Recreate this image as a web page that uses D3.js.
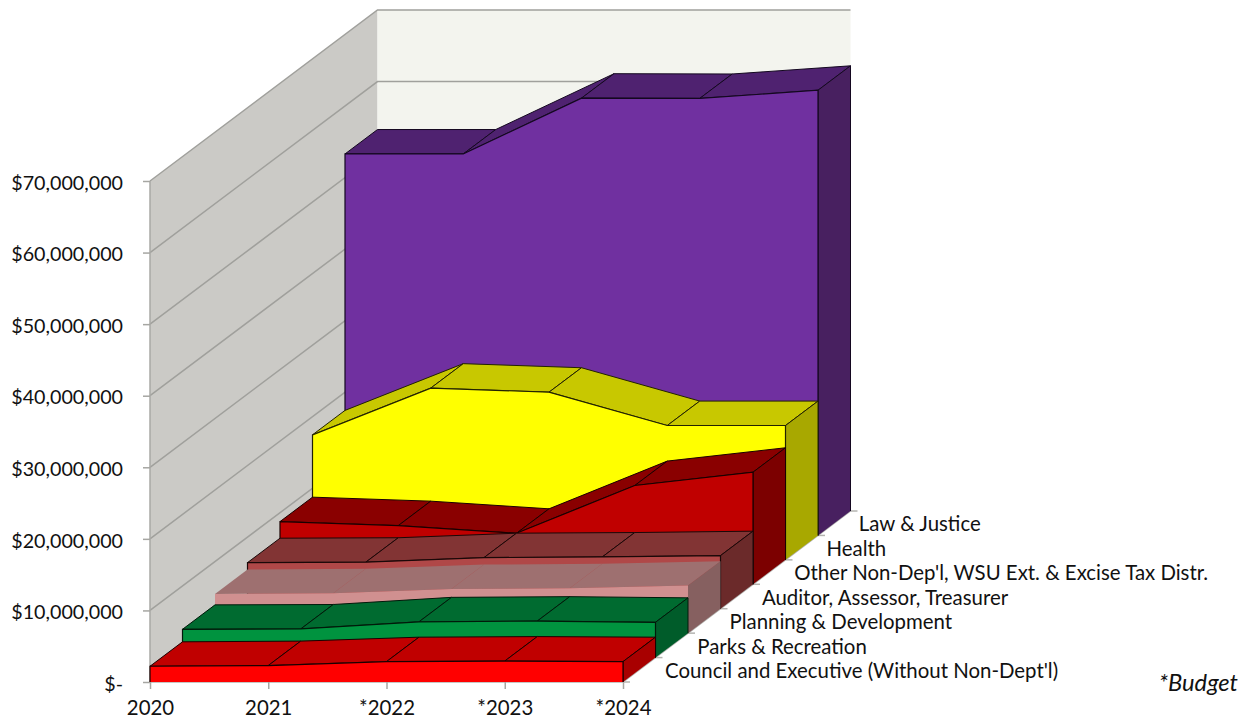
<!DOCTYPE html>
<html>
<head>
<meta charset="utf-8">
<script src="https://cdn.jsdelivr.net/npm/d3@7"></script>
<style>
    html, body { margin: 0; padding: 0; background: #fff; }
    svg { display: block; }
    text { font-family: Lato, "Open Sans", sans-serif; fill: #111; }
    .domain { display: none; }
    .tick line { stroke: #a6a6a2; stroke-width: 1.5; }
</style>
</head>
<body>
<div id="chart"></div>
<script>
// chart values, front series first
const years = ["2020", "2021", "*2022", "*2023", "*2024"];
const seriesNames = [
    "Council and Executive (Without Non-Dept'l)",
    "Parks & Recreation",
    "Planning & Development",
    "Auditor, Assessor, Treasurer",
    "Other Non-Dep'l, WSU Ext. & Excise Tax Distr.",
    "Health",
    "Law & Justice"
];
const council = [2200000, 2300000, 2850000, 2930000, 2850000];
const parks = [3950000, 4000000, 5000000, 5100000, 4930000];
const planning = [5470000, 5570000, 6170000, 6270000, 6640000];
const auditor = [6440000, 6500000, 7140000, 7230000, 7420000];
const otherNonDep = [8760000, 8200000, 7130000, 13800000, 15660000];
const health = [17470000, 24000000, 23430000, 18770000, 18770000];
const lawJustice = [53300000, 53300000, 61100000, 61060000, 62200000];
const seriesValues = [council, parks, planning, auditor, otherNonDep, health, lawJustice];
const yTicks = [0, 10000000, 20000000, 30000000, 40000000, 50000000, 60000000, 70000000];

const frontColors = ["#ff0000", "#00933f", "#d09090", "#b04848", "#c00000", "#ffff00", "#7030a0"];
const topColors = ["#c00000", "#006b30", "#9e7070", "#823434", "#8a0000", "#c8c800", "#4f2270"];
const sideColors = ["#a80000", "#005c2a", "#866060", "#6b2a2a", "#7c0000", "#a8a800", "#482060"];
const lineColors = ["#1a0000", "#001a0a", "none", "#1a0808", "#1a0000", "#222200", "#140820"];

const width = 1248, height = 722;

const x = d3.scalePoint().domain(years).range([150, 623]);
const y = d3.scaleLinear().domain([0, 70000000]).range([682, 181]);
// depth of the 3d box, in series
const depthX = d3.scaleLinear().domain([0, 7]).range([0, 227.5]);
const depthY = d3.scaleLinear().domain([0, 7]).range([0, -171]);

const svg = d3.select("#chart").append("svg")
    .attr("width", width)
    .attr("height", height);

const line = d3.line();

// point in chart space: year index, value, depth
function pt(i, v, d) {
    return [x(years[i]) + depthX(d), y(v) + depthY(d)];
}

// walls
const xEnd = years.length - 1;
svg.append("path")
    .attr("d", line([pt(0, 0, 0), pt(0, 0, 7), pt(0, 70000000, 7), pt(0, 70000000, 0)]) + "Z")
    .attr("fill", "#cbcac6");
svg.append("path")
    .attr("d", line([pt(0, 0, 7), pt(xEnd, 0, 7), pt(xEnd, 70000000, 7), pt(0, 70000000, 7)]) + "Z")
    .attr("fill", "#f3f4ee");

// gridlines
svg.append("g").selectAll("path")
    .data(yTicks)
    .join("path")
    .attr("d", d => line([pt(0, d, 0), pt(0, d, 7), pt(xEnd, d, 7)]))
    .attr("fill", "none")
    .attr("stroke", "#a0a09c")
    .attr("stroke-width", 1.5);

svg.append("path")
    .attr("d", line([pt(0, 0, 0), pt(0, 70000000, 0)]))
    .attr("stroke", "#a8a8a4")
    .attr("stroke-width", 1.5);

// floor
svg.append("path")
    .attr("d", line([pt(0, 0, 0), pt(xEnd, 0, 0), pt(xEnd, 0, 7), pt(0, 0, 7)]) + "Z")
    .attr("fill", "#ffffff");
svg.append("path")
    .attr("d", line([pt(0, 0, 0), pt(xEnd, 0, 0), pt(xEnd, 0, 7)]))
    .attr("fill", "none")
    .attr("stroke", "#b4b4b0")
    .attr("stroke-width", 1.5);

// axes
svg.append("g")
    .attr("transform", `translate(${x.range()[0]}, 0)`)
    .call(d3.axisLeft(y)
        .tickValues(yTicks)
        .tickSize(7)
        .tickPadding(20)
        .tickFormat(d => d === 0 ? "$-" : d3.format("$,")(d)))
    .selectAll("text")
    .attr("dy", "0.42em")
    .style("font-size", "19.7px");

svg.append("g")
    .attr("transform", `translate(0, ${y(0)})`)
    .call(d3.axisBottom(x).tickSize(7).tickPadding(12))
    .selectAll("text")
    .style("font-size", "20.4px");

// depth ticks and series names, down the right edge of the floor
const depthAxis = svg.append("g");
d3.range(0, 8).forEach(d => {
    let p = pt(xEnd, 0, d);
    depthAxis.append("line")
        .attr("x1", p[0]).attr("y1", p[1])
        .attr("x2", p[0] + 7).attr("y2", p[1])
        .attr("stroke", "#b4b4b0")
        .attr("stroke-width", 1.5);
});
depthAxis.selectAll("text")
    .data(seriesNames)
    .join("text")
    .attr("x", (d, i) => pt(xEnd, 0, i)[0] + 42 - i * 0.2)
    .attr("y", (d, i) => pt(xEnd, 0, i)[1] - 4)
    .style("font-size", "20.4px")
    .text(d => d);

// series, back to front
d3.range(seriesValues.length - 1, -1, -1).forEach(s => {
    let values = seriesValues[s];
    let g = svg.append("g").attr("class", "series");
    let stroke = lineColors[s];

    // top surface, one facet per year step
    d3.range(0, xEnd).forEach(i => {
        g.append("path")
            .attr("d", line([pt(i, values[i], s), pt(i + 1, values[i + 1], s),
                pt(i + 1, values[i + 1], s + 1), pt(i, values[i], s + 1)]) + "Z")
            .attr("fill", topColors[s])
            .attr("stroke", stroke)
            .attr("stroke-width", 1);
    });

    // right end
    g.append("path")
        .attr("d", line([pt(xEnd, 0, s), pt(xEnd, values[xEnd], s),
            pt(xEnd, values[xEnd], s + 1), pt(xEnd, 0, s + 1)]) + "Z")
        .attr("fill", sideColors[s]);
    g.append("path")
        .attr("d", line([pt(xEnd, 0, s), pt(xEnd, values[xEnd], s),
            pt(xEnd, values[xEnd], s + 1), pt(xEnd, 0, s + 1)]))
        .attr("fill", "none")
        .attr("stroke", stroke)
        .attr("stroke-width", 1);

    // front face
    let upper = values.map((v, i) => pt(i, v, s));
    g.append("path")
        .attr("d", line([pt(0, 0, s), ...upper, pt(xEnd, 0, s)]) + "Z")
        .attr("fill", frontColors[s]);
    g.append("path")
        .attr("d", line([pt(0, 0, s), ...upper, pt(xEnd, 0, s)]))
        .attr("fill", "none")
        .attr("stroke", stroke)
        .attr("stroke-width", 1.2);
});

// footnote
svg.append("text")
    .attr("x", 1238)
    .attr("y", 691)
    .attr("text-anchor", "end")
    .style("font-size", "23.7px")
    .style("font-style", "italic")
    .text("*Budget");
</script>
</body>
</html>
